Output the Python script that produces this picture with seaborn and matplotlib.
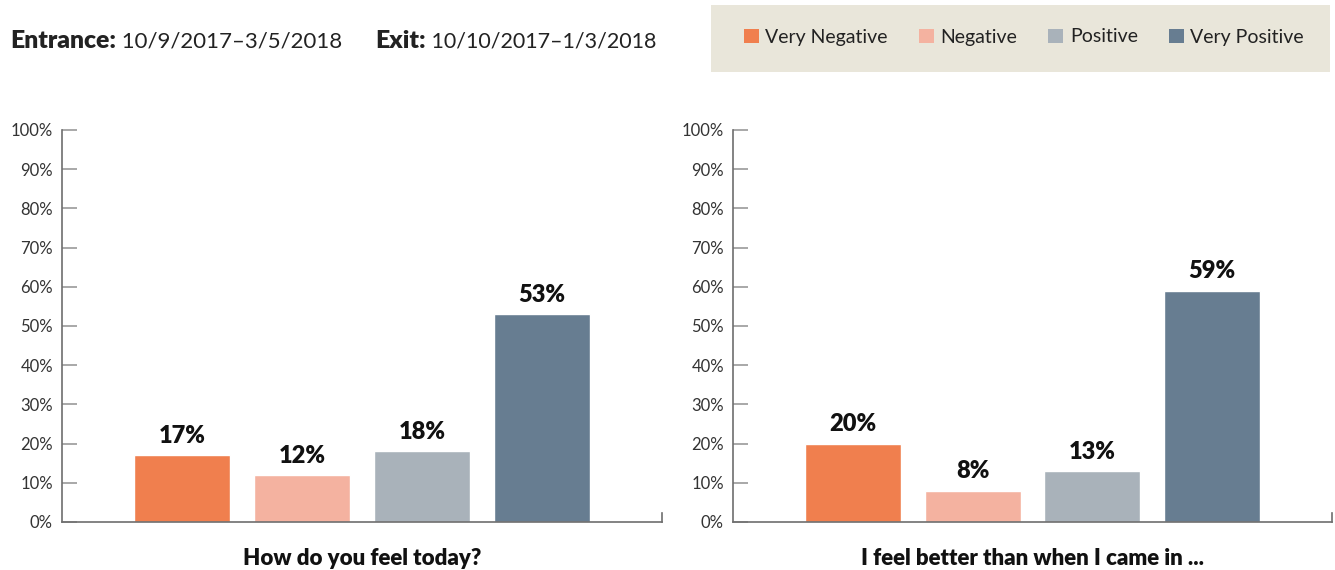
import matplotlib
matplotlib.use("Agg")
import matplotlib.pyplot as plt
from matplotlib.patches import Patch, Rectangle
import pandas as pd
import seaborn as sns

# Survey responses (% of respondents)
categories = ["Very Negative", "Negative", "Positive", "Very Positive"]
feel_today = [17, 12, 18, 53]
feel_better = [20, 8, 13, 59]
questions = ["How do you feel today?", "I feel better than when I came in ..."]
y_ticks = [0, 10, 20, 30, 40, 50, 60, 70, 80, 90, 100]
colors = ["#F07F4E", "#F4B2A0", "#A9B2BA", "#677D91"]

sns.set_theme(style="white")
plt.rcParams["font.family"] = ["Lato", "DejaVu Sans"]

AXIS_GREY = "#6E6E6E"
TEXT_DARK = "#222222"
HEAVY = "heavy"

fig = plt.figure(figsize=(13.35, 5.7), dpi=100)
ax_left = fig.add_axes([62 / 1335, 1 - 522 / 570, 600 / 1335, 392 / 570])
ax_right = fig.add_axes([733 / 1335, 1 - 522 / 570, 599 / 1335, 392 / 570])

palette = dict(zip(categories, colors))

for ax, values, question in zip((ax_left, ax_right), (feel_today, feel_better), questions):
    df = pd.DataFrame({"category": categories, "value": values})
    sns.barplot(data=df, x="category", y="value", hue="category",
                order=categories, hue_order=categories, palette=palette,
                width=0.8, saturation=1, legend=False, ax=ax)
    for container in ax.containers:
        ax.bar_label(container, fmt="%d%%", padding=6, fontsize=17,
                     fontweight=HEAVY, color="#111111")

    ax.set_xlim(-1, 4)
    ax.set_ylim(0, 100)
    ax.set_xticks([])
    ax.set_yticks(y_ticks)
    ax.set_yticklabels([f"{t}%" for t in y_ticks])
    ax.set_ylabel("")
    ax.set_xlabel(question, fontsize=16, fontweight=HEAVY,
                  color="#111111", labelpad=19)

    for side in ("left", "bottom", "right"):
        ax.spines[side].set_visible(True)
        ax.spines[side].set_color(AXIS_GREY)
        ax.spines[side].set_linewidth(1.2)
    ax.spines["top"].set_visible(False)
    ax.spines["right"].set_bounds(0, 2.2)

    ax.tick_params(axis="y", direction="in", length=11, width=1.2,
                   color="#9A9A9A", pad=6.5, labelsize=12, labelcolor="#333333",
                   left=True)
    ax.set_facecolor("white")

# Header: reporting periods
t1 = fig.text(10 / 1335, 1 - 41 / 570, "Entrance:", fontsize=17.8, fontweight=HEAVY,
              color=TEXT_DARK, va="center", ha="left")
ax_left.annotate(" 10/9/2017–3/5/2018", xy=(1, 0.5), xycoords=t1, fontsize=16,
                 color=TEXT_DARK, va="center", ha="left", annotation_clip=False)
t2 = fig.text(375 / 1335, 1 - 41 / 570, "Exit:", fontsize=17.8, fontweight=HEAVY,
              color=TEXT_DARK, va="center", ha="left")
ax_left.annotate(" 10/10/2017–1/3/2018", xy=(1, 0.5), xycoords=t2, fontsize=15.5,
                 color=TEXT_DARK, va="center", ha="left", annotation_clip=False)

# Legend panel
fig.patches.append(Rectangle((711 / 1335, 1 - 72 / 570), 619 / 1335, 67 / 570,
                             transform=fig.transFigure, facecolor="#E9E6DA",
                             edgecolor="none", zorder=0))
handles = [Patch(facecolor=c, edgecolor="none", label=l) for c, l in zip(colors, categories)]
fig.legend(handles=handles, loc="center", bbox_to_anchor=(1024 / 1335, 1 - 37 / 570),
           ncol=4, frameon=False, fontsize=14, handlelength=0.75, handleheight=0.75,
           handletextpad=0.35, columnspacing=1.6, labelcolor=TEXT_DARK)

fig.savefig("out.png", dpi=100, facecolor="white")
